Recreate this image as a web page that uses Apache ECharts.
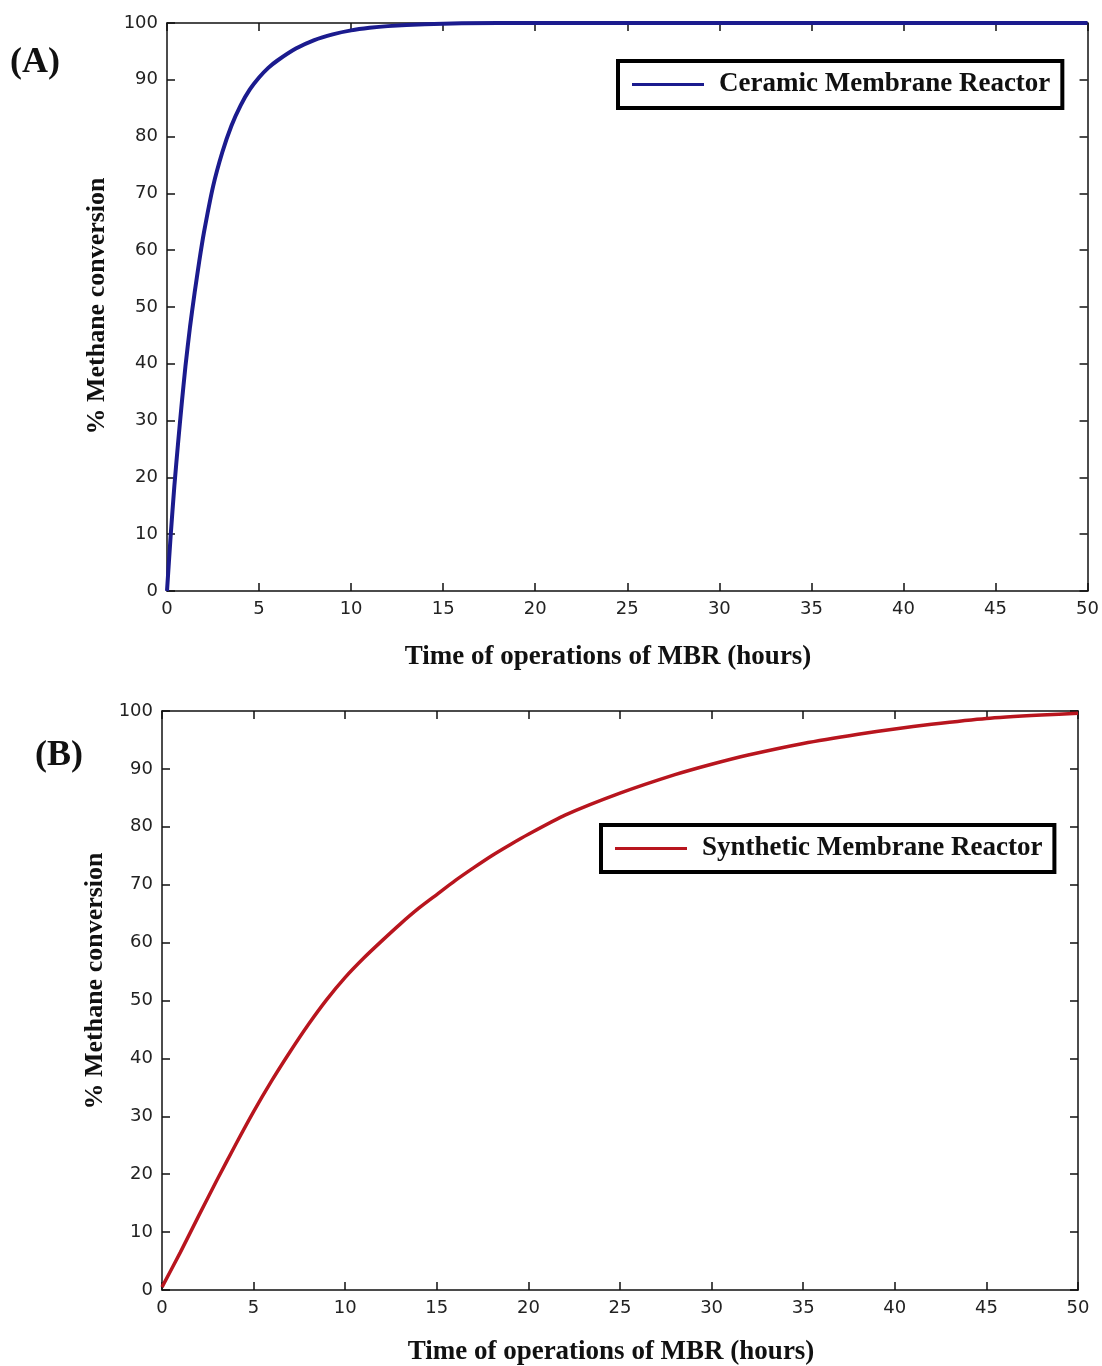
<!DOCTYPE html>
<html>
<head>
<meta charset="utf-8">
<script src="https://cdn.jsdelivr.net/npm/echarts@6/dist/echarts.min.js"></script>
<style>
  html, body { margin: 0; padding: 0; background: #fff; }
  #chart { width: 1102px; height: 1366px; }
</style>
</head>
<body>
<div id="chart"></div>
<script>
// 数据 (A) 陶瓷膜反应器
const hoursA = [0, 0.2, 0.4, 0.6, 0.8, 1, 1.25, 1.5, 1.75, 2, 2.5, 3, 3.5, 4, 4.5, 5, 5.5, 6, 7, 8, 9, 10, 11, 12, 14, 16, 20, 30, 40, 50];
const convA = [0, 9.8, 18.5, 26, 33, 39.5, 46.5, 52.5, 58, 63, 71.2, 77.2, 81.9, 85.5, 88.3, 90.4, 92.1, 93.4, 95.5, 97, 98, 98.7, 99.15, 99.45, 99.8, 99.95, 100, 100, 100, 100];

// 数据 (B) 合成膜反应器
const hoursB = [0, 1, 2, 3, 4, 5, 6, 7, 8, 9, 10, 11, 12, 13, 14, 15, 16, 17, 18, 19, 20, 22, 25, 28, 30, 32, 35, 38, 40, 42, 45, 48, 50];
const convB = [0.5, 6.5, 12.8, 19, 25, 30.8, 36.2, 41.2, 45.9, 50.2, 54, 57.3, 60.3, 63.2, 65.9, 68.3, 70.7, 72.9, 75, 76.9, 78.7, 82, 85.8, 89, 90.8, 92.4, 94.4, 96, 96.9, 97.7, 98.7, 99.3, 99.6];

const seriesNameA = "Ceramic Membrane Reactor";
const seriesNameB = "Synthetic Membrane Reactor";
const xTitle = "Time of operations of MBR (hours)";
const yTitle = "% Methane conversion";

const serif = "'Liberation Serif', 'Times New Roman', serif";
const sans = "'DejaVu Sans', 'Liberation Sans', sans-serif";

function pairs(xs, ys) {
  return xs.map((x, i) => [x, ys[i]]);
}

// 底部/左侧坐标轴 + 顶部/右侧只有刻度的坐标轴
function xAxes(gridIndex) {
  const base = {
    type: "value", gridIndex: gridIndex, min: 0, max: 50, interval: 5,
    axisLine: { show: true, onZero: false, lineStyle: { color: "#111", width: 1.5 } },
    axisTick: { show: true, inside: true, length: 8, lineStyle: { color: "#111", width: 1.5 } },
    splitLine: { show: false }
  };
  return [
    Object.assign({}, base, {
      position: "bottom",
      axisLabel: { color: "#222", fontFamily: sans, fontSize: 18, margin: 9 }
    }),
    Object.assign({}, base, { position: "top", axisLabel: { show: false } })
  ];
}

function yAxes(gridIndex) {
  const base = {
    type: "value", gridIndex: gridIndex, min: 0, max: 100, interval: 10,
    axisLine: { show: true, onZero: false, lineStyle: { color: "#111", width: 1.5 } },
    axisTick: { show: true, inside: true, length: 8, lineStyle: { color: "#111", width: 1.5 } },
    splitLine: { show: false }
  };
  return [
    Object.assign({}, base, {
      position: "left",
      axisLabel: { color: "#222", fontFamily: sans, fontSize: 18, margin: 9 }
    }),
    Object.assign({}, base, { position: "right", axisLabel: { show: false } })
  ];
}

// 坐标轴标题 (参考图中位置不完全居中，所以用 graphic)
function titleText(text, x, y, rotate, size) {
  return {
    type: "text", x: x, y: y, rotation: rotate ? Math.PI / 2 : 0,
    style: {
      text: text, fontFamily: serif, fontWeight: "bold", fontSize: size, fill: "#111",
      align: "center", verticalAlign: "middle"
    }
  };
}

const legendBase = {
  orient: "horizontal",
  backgroundColor: "#fff",
  borderColor: "#000",
  borderWidth: 4,
  borderRadius: 0,
  padding: [10, 12, 10, 14],
  itemWidth: 72,
  itemHeight: 3,
  icon: "rect",
  textStyle: { fontFamily: serif, fontWeight: "bold", fontSize: 27, color: "#111", padding: [0, 0, 0, 10] }
};

const chart = echarts.init(document.getElementById("chart"), null, { renderer: "canvas" });

const option = {
  backgroundColor: "#fff",
  animation: false,
  grid: [
    { left: 167, top: 23, right: 10, height: 568 },
    { left: 162, top: 711, right: 24, height: 579 }
  ],
  xAxis: xAxes(0).concat(xAxes(1)),
  yAxis: yAxes(0).concat(yAxes(1)),
  legend: [
    Object.assign({}, legendBase, { data: [seriesNameA], left: 618, top: 61 }),
    Object.assign({}, legendBase, { data: [seriesNameB], left: 601, top: 825 })
  ],
  graphic: [
    { type: "text", left: 10, top: 45, style: { text: "(A)", fontFamily: serif, fontWeight: "bold", fontSize: 36, fill: "#111" } },
    { type: "text", left: 35, top: 738, style: { text: "(B)", fontFamily: serif, fontWeight: "bold", fontSize: 36, fill: "#111" } },
    titleText(xTitle, 608, 657, false, 27),
    titleText(xTitle, 611, 1352, false, 27),
    titleText(yTitle, 97, 306, true, 26),
    titleText(yTitle, 95, 981, true, 26)
  ],
  series: [
    {
      name: seriesNameA, type: "line", xAxisIndex: 0, yAxisIndex: 0,
      data: pairs(hoursA, convA), smooth: 0.2, showSymbol: false,
      lineStyle: { color: "#1b1b8e", width: 4 }, itemStyle: { color: "#1b1b8e" }
    },
    {
      name: seriesNameB, type: "line", xAxisIndex: 2, yAxisIndex: 2,
      data: pairs(hoursB, convB), smooth: 0.2, showSymbol: false,
      lineStyle: { color: "#b8151e", width: 3.5 }, itemStyle: { color: "#b8151e" }
    }
  ]
};

chart.setOption(option);
</script>
</body>
</html>
